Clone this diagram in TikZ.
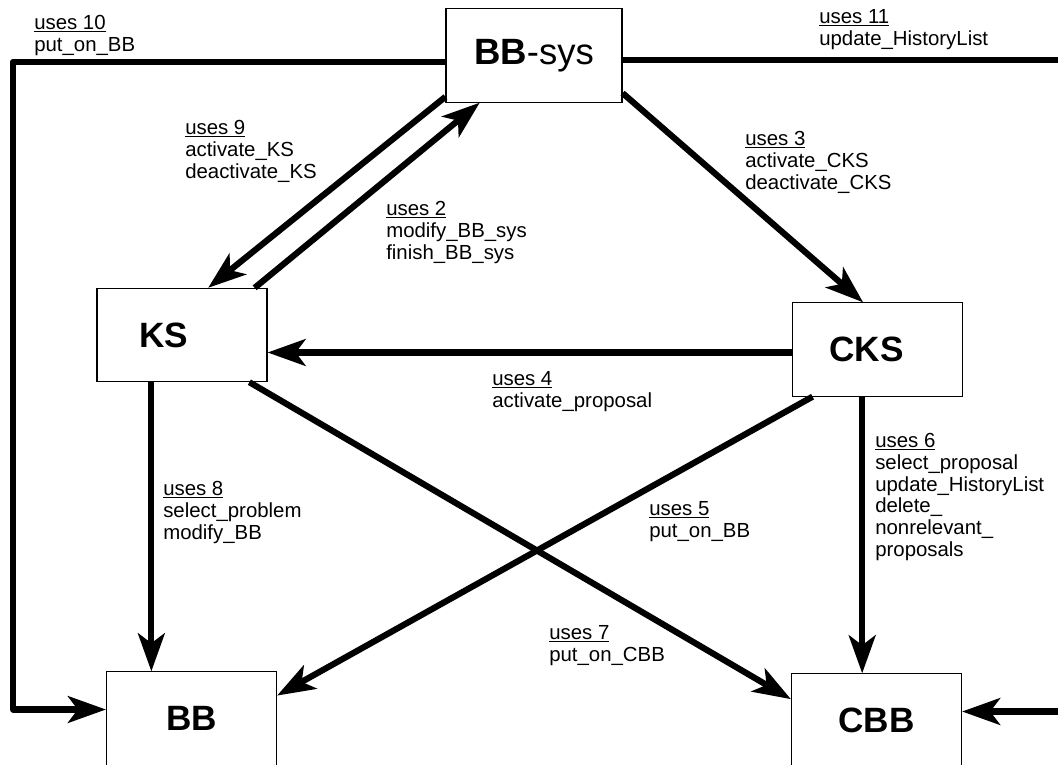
\documentclass[tikz,border=0pt]{standalone}
\usepackage{fontspec}
\setmainfont{Liberation Sans}
\usetikzlibrary{arrows.meta}

\tikzset{
  box/.style={draw, line width=0.8pt, minimum width=4.25cm, minimum height=2.33cm,
    font=\fontsize{25}{30}\selectfont\bfseries},
  arr/.style={line width=4.4pt, line join=round, -{Stealth[length=27pt,width=19pt,inset=7pt]}},
  uses/.style={anchor=north west, inner sep=0pt, align=left,
    font=\fontsize{14.5}{15.5}\selectfont},
}

\begin{document}
\begin{tikzpicture}[x=0.025cm, y=-0.025cm]
    \useasboundingbox (0,0) rectangle (1058,764);
    \clip (0,0) rectangle (1058,764);
    \fill[white] (0,0) rectangle (1058,764);

    % boxes
    \node[box, minimum width=4.4cm, font=\fontsize{26}{30}\selectfont] (bbsys) at (534,55.5) {\textbf{BB}-sys};
    \node[box] (ks)  at (182,335)   {KS\rule{0.9cm}{0pt}};
    \node[box] (cks) at (877.5,349.5) {CKS\rule{0.55cm}{0pt}};
    \node[box] (bb)  at (191.5,718.5) {BB};
    \node[box] (cbb) at (876.5,720.5) {CBB};

    % outer rails
    \coordinate (leftrail)  at (13,0);
    \coordinate (rightrail) at (1080,0);

    % connectors
    \draw[arr] (bbsys.184) -| (leftrail |- bb.174) -- (bb.174);
    \draw[arr] (bbsys.-3) -| (rightrail |- cbb.6) -- (cbb.6);
    \draw[arr] (bbsys.205) -- (ks.61);
    \draw[arr] (ks.33) -- (bbsys.221);
    \draw[arr] (bbsys.-23) -- (cks.107);
    \draw[arr] (cks.182) -- (cks.182 -| ks.east);
    \draw[arr] (cks.216) -- (bb.15);
    \draw[arr] (ks.-35) -- (cbb.166);
    \draw[arr] (ks.237) -- (ks.237 |- bb.north);
    \draw[arr] (cks.252) -- (cks.252 |- cbb.north);

    % labels
    \node[uses] (l10) at (34,15)  {\underline{uses 10}\\put\_on\_BB};
    \node[uses] (l11) at (819,9)  {\underline{uses 11}\\update\_HistoryList};
    \node[uses] (l9)  at (185,120) {\underline{uses 9}\\activate\_KS\\deactivate\_KS};
    \node[uses] (l2)  at (386,201) {\underline{uses 2}\\modify\_BB\_sys\\finish\_BB\_sys};
    \node[uses] (l3)  at (745,131) {\underline{uses 3}\\activate\_CKS\\deactivate\_CKS};
    \node[uses] (l4)  at (492,371) {\underline{uses 4}\\activate\_proposal};
    \node[uses] (l5)  at (649,501) {\underline{uses 5}\\put\_on\_BB};
    \node[uses] (l6)  at (875,433) {\underline{uses 6}\\select\_proposal\\update\_HistoryList\\delete\_\\nonrelevant\_\\proposals};
    \node[uses] (l7)  at (549,625) {\underline{uses 7}\\put\_on\_CBB};
    \node[uses] (l8)  at (163,481) {\underline{uses 8}\\select\_problem\\modify\_BB};
\end{tikzpicture}
\end{document}
